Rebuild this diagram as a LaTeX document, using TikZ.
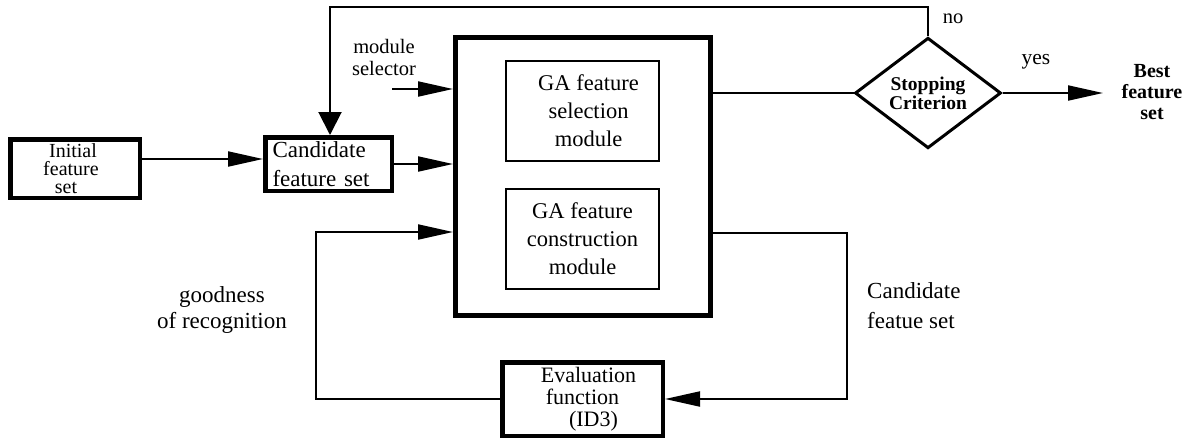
\documentclass[tikz,border=0pt]{standalone}
\usepackage{fontspec}
\setmainfont{Liberation Serif}
\usetikzlibrary{arrows.meta,shapes.geometric}
\begin{document}
\begin{tikzpicture}[x=1pt,y=-1pt,
  thickbox/.style={draw,line width=4.5pt,inner sep=0pt},
  thinbox/.style={draw,line width=2pt,inner sep=0pt},
  conn/.style={line width=2pt},
  harr/.style={conn,-{Triangle[length=35pt,width=15pt]}},
  varr/.style={conn,-{Triangle[length=23pt,width=23pt]}},
  lbl/.style={inner sep=0pt,align=center}]
\useasboundingbox (0,0) rectangle (1189,440);

% boxes
\node[thickbox,minimum width=129.5pt,minimum height=58.5pt,align=center,
      font=\fontsize{20}{18}\selectfont] (init) at (75,168.5)
      {\hspace*{-4pt}Initial\\\hspace*{-8pt}feature\\\hspace*{-18pt}set};
\node[thickbox,minimum width=126.5pt,minimum height=53.5pt,text width=112pt,
      inner xsep=7pt,align=left,font=\fontsize{23}{29}\selectfont] (cand) at (328.5,164)
      {Candidate\\feature set};
\node[draw,line width=5pt,minimum width=255pt,minimum height=278pt] (main) at (583,176.5) {};
\node[thinbox,minimum width=153pt,minimum height=100pt,align=center,
      font=\fontsize{22.5}{28}\selectfont] (sel) at (582.5,111)
      {\hspace*{12pt}GA feature\\\hspace*{12pt}selection\\\hspace*{12pt}module};
\node[thinbox,minimum width=153pt,minimum height=100pt,align=center,
      font=\fontsize{22.5}{28}\selectfont] (con) at (582.5,239)
      {GA feature\\construction\\module};
\node[draw,shape=diamond,line width=3pt,inner sep=0pt,minimum width=146pt,
      minimum height=100pt,align=center,font=\fontsize{19.5}{15}\selectfont\bfseries]
      (dia) at (928,93) {Stopping\\Criterion};
\node[thickbox,minimum width=160.5pt,minimum height=73.5pt,align=center,
      font=\fontsize{22}{22}\selectfont] (eval) at (582.5,399)
      {\hspace*{12pt}Evaluation\\function\\\hspace*{22pt}(ID3)};
\node[lbl,font=\fontsize{20}{21}\selectfont\bfseries] (best) at (1152,92)
      {Best\\feature\\set};

% labels
\node[lbl,font=\fontsize{20.5}{22}\selectfont] (msel) at (384,57) {module\\selector};
\node[lbl,font=\fontsize{20.5}{22}\selectfont] (no) at (953,19) {no};
\node[lbl,font=\fontsize{21.5}{22}\selectfont] (yes) at (1036,62) {yes};
\node[lbl,align=left,anchor=west,font=\fontsize{23}{30}\selectfont] (cfs) at (867,306)
      {Candidate\\featue set};
\node[lbl,font=\fontsize{23}{26}\selectfont] (good) at (222,310)
      {goodness\\of recognition};

% connectors
\coordinate (loopT) at (330,7);
\coordinate (msIn) at (392,89);
\coordinate (goodL) at (316,232);
\coordinate (candR) at (847,233);

\draw[harr] ([yshift=9.5pt]init.east) -- ([yshift=9.5pt]init.east -| cand.west);
\draw[harr] (cand.east) -- (cand.east -| main.west);
\draw[harr] (msIn) -- (msIn -| main.west);
\draw[varr] (dia.north) |- (loopT) -- (loopT |- cand.north);
\draw[conn] (dia.west -| main.east) -- (dia.west);
\draw[harr] (dia.east) -- (1103,93);
\draw[harr] (eval.west) -| (goodL) -- (goodL -| main.west);
\draw[harr] (candR -| main.east) -- (candR) |- (eval.east);
\end{tikzpicture}
\end{document}
